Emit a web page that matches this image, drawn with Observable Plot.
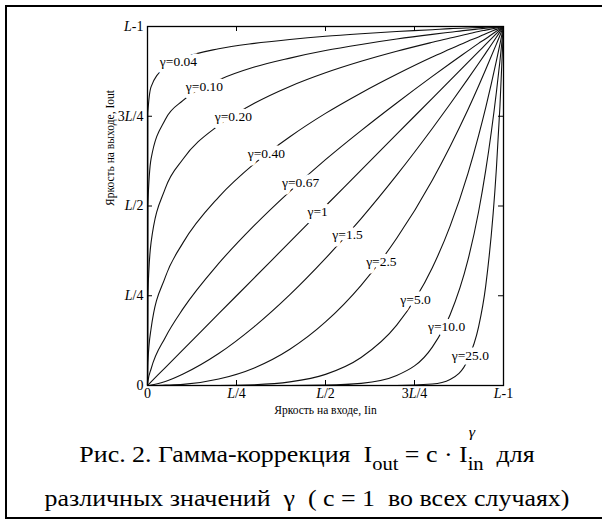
<!DOCTYPE html>
<html>
<head>
<meta charset="utf-8">
<script src="https://cdn.jsdelivr.net/npm/d3@7"></script>
<script src="https://cdn.jsdelivr.net/npm/@observablehq/plot@0.6"></script>
<style>
html, body { margin: 0; padding: 0; width: 602px; height: 520px; overflow: hidden; background: #fff; }
#box { position: absolute; left: 5px; top: 5.3px; width: 610px; height: 513.5px; box-sizing: border-box; border: 2.5px solid #000; }
#chart { position: absolute; left: 0; top: 0; }
.cap { position: absolute; left: 0; width: 614px; text-align: center; font-family: "Liberation Serif", "DejaVu Serif", serif; font-size: 24px; line-height: 28px; color: #000; white-space: nowrap; transform: scaleX(1.08); transform-origin: 307px 0; }
.sb { font-size: 19px; vertical-align: -8px; line-height: 0; }
.stk { position: relative; display: inline-block; vertical-align: -8px; line-height: 20px; }
.stk .sb2 { font-size: 19px; line-height: 20px; }
.stk .sp { position: absolute; left: 1px; bottom: calc(100% + 12px); font-size: 15px; line-height: 15px; font-style: italic; }
</style>
</head>
<body>
<div id="box"></div>
<div id="chart"></div>
<div class="cap" style="top:440px">Рис. 2. Гамма-коррекция&nbsp; I<span class="sb">out</span> = c · I<span class="stk"><span class="sb2">in</span><span class="sp">γ</span></span>&nbsp; для</div>
<div class="cap" style="top:484px">различных значений&nbsp; γ &nbsp;( c = 1&nbsp; во всех случаях)</div>
<script>
// input brightness levels (fraction of L-1)
const inputLevels = [0, 0.001, 0.01, 0.05, 0.1, 0.2, 0.3, 0.4, 0.5, 0.6, 0.7, 0.8, 0.85, 0.9, 0.93, 0.95, 0.98, 0.99, 1];
// output brightness
const out_004 = [0, 0.759, 0.832, 0.887, 0.912, 0.938, 0.953, 0.964, 0.973, 0.980, 0.986, 0.991, 0.994, 0.996, 0.997, 0.998, 0.999, 1.000, 1];
const out_010 = [0, 0.501, 0.631, 0.741, 0.794, 0.851, 0.887, 0.912, 0.933, 0.950, 0.965, 0.978, 0.984, 0.990, 0.993, 0.995, 0.998, 0.999, 1];
const out_020 = [0, 0.251, 0.398, 0.549, 0.631, 0.725, 0.786, 0.833, 0.871, 0.903, 0.931, 0.956, 0.968, 0.979, 0.986, 0.990, 0.996, 0.998, 1];
const out_040 = [0, 0.063, 0.158, 0.302, 0.398, 0.525, 0.618, 0.693, 0.758, 0.815, 0.867, 0.915, 0.937, 0.959, 0.971, 0.980, 0.992, 0.996, 1];
const out_067 = [0, 0.010, 0.046, 0.134, 0.214, 0.340, 0.446, 0.541, 0.629, 0.710, 0.787, 0.861, 0.897, 0.932, 0.953, 0.966, 0.987, 0.993, 1];
const out_1   = [0, 0.001, 0.010, 0.050, 0.100, 0.200, 0.300, 0.400, 0.500, 0.600, 0.700, 0.800, 0.850, 0.900, 0.930, 0.950, 0.980, 0.990, 1];
const out_15  = [0, 0.000, 0.001, 0.011, 0.032, 0.089, 0.164, 0.253, 0.354, 0.465, 0.586, 0.716, 0.784, 0.854, 0.897, 0.926, 0.970, 0.985, 1];
const out_25  = [0, 0, 0, 0.001, 0.003, 0.018, 0.049, 0.101, 0.177, 0.279, 0.410, 0.572, 0.666, 0.768, 0.834, 0.880, 0.951, 0.975, 1];
const out_5   = [0, 0, 0, 0, 0, 0, 0.002, 0.010, 0.031, 0.078, 0.168, 0.328, 0.444, 0.590, 0.696, 0.774, 0.904, 0.951, 1];
const out_10  = [0, 0, 0, 0, 0, 0, 0, 0, 0.001, 0.006, 0.028, 0.107, 0.197, 0.349, 0.484, 0.599, 0.817, 0.904, 1];
const out_25b = [0, 0, 0, 0, 0, 0, 0, 0, 0, 0, 0, 0.004, 0.017, 0.072, 0.163, 0.277, 0.604, 0.778, 1];

const gammaNames = ["0.04", "0.10", "0.20", "0.40", "0.67", "1", "1.5", "2.5", "5.0", "10.0", "25.0"];
const curveOutputs = [out_004, out_010, out_020, out_040, out_067, out_1, out_15, out_25, out_5, out_10, out_25b];

// label positions
const labelX = [0.087, 0.160, 0.241, 0.334, 0.430, 0.478, 0.562, 0.657, 0.753, 0.840, 0.907];
const labelY = [0.903, 0.833, 0.750, 0.647, 0.566, 0.484, 0.421, 0.345, 0.240, 0.163, 0.083];

const tickValues = [0, 0.25, 0.5, 0.75, 1];
const tickLabels = ["0", "L/4", "L/2", "3L/4", "L-1"];
const innerTicks = [0.25, 0.5, 0.75];

const xTitle = "Яркость на входе, Iin";
const yTitle = "Яркость на выходе, Iout";

const rows = [];
gammaNames.forEach((g, k) => {
  inputLevels.forEach((x, i) => rows.push({gamma: g, x, y: curveOutputs[k][i]}));
});
const labels = gammaNames.map((g, k) => ({text: "γ=" + g, x: labelX[k], y: labelY[k]}));

const serif = "'Liberation Serif', 'DejaVu Serif', serif";
const fmt = d => tickLabels[tickValues.indexOf(d)];

const W = 602, H = 420, mL = 147, mR = 99, mT = 26, mB = 35;
const fw = W - mL - mR, fh = H - mT - mB, tk = 5;

const chart = Plot.plot({
  width: W,
  height: H,
  marginLeft: mL,
  marginRight: mR,
  marginTop: mT,
  marginBottom: mB,
  style: {background: "transparent", fontFamily: serif, color: "#000"},
  x: {domain: [0, 1], label: null},
  y: {domain: [0, 1], label: null},
  marks: [
    Plot.line(rows, {x: "x", y: "y", z: "gamma", curve: "monotone-x", stroke: "#111", strokeWidth: 1.1}),
    Plot.text(labels, {x: "x", y: "y", text: "text", fontSize: 13.5, fontFamily: serif, fill: "#000", stroke: "white", strokeWidth: 9, paintOrder: "stroke", strokeLinejoin: "round"}),
    Plot.frame({stroke: "#000", strokeWidth: 1.3}),
    Plot.tickX(innerTicks, {x: d => d, insetTop: fh - tk, stroke: "#000"}),
    Plot.tickX(innerTicks, {x: d => d, insetBottom: fh - tk, stroke: "#000"}),
    Plot.tickY(innerTicks, {y: d => d, insetRight: fw - tk, stroke: "#000"}),
    Plot.tickY(innerTicks, {y: d => d, insetLeft: fw - tk, stroke: "#000"}),
    Plot.axisX(tickValues, {anchor: "bottom", label: null, tickSize: 0, tickPadding: 3, tickFormat: fmt, fontSize: 14, fontFamily: serif}),
    Plot.axisY(tickValues, {anchor: "left", label: null, tickSize: 0, tickPadding: 4, tickFormat: fmt, fontSize: 14, fontFamily: serif}),
    Plot.text([xTitle], {frameAnchor: "bottom", dy: 28, fontSize: 11.5, fontFamily: serif, fill: "#000"}),
    Plot.text([yTitle], {frameAnchor: "left", rotate: -90, dx: -37, fontSize: 11.5, fontFamily: serif, fill: "#000"})
  ]
});

// italic "L" in tick labels
chart.querySelectorAll('g[aria-label$="tick label"] text').forEach(t => {
  const s = t.textContent;
  if (!s.includes("L")) return;
  t.textContent = "";
  s.split(/(L)/).forEach(part => {
    if (!part) return;
    const ts = document.createElementNS("http://www.w3.org/2000/svg", "tspan");
    ts.textContent = part;
    if (part === "L") ts.setAttribute("font-style", "italic");
    t.appendChild(ts);
  });
});

document.getElementById("chart").appendChild(chart);
</script>
</body>
</html>
